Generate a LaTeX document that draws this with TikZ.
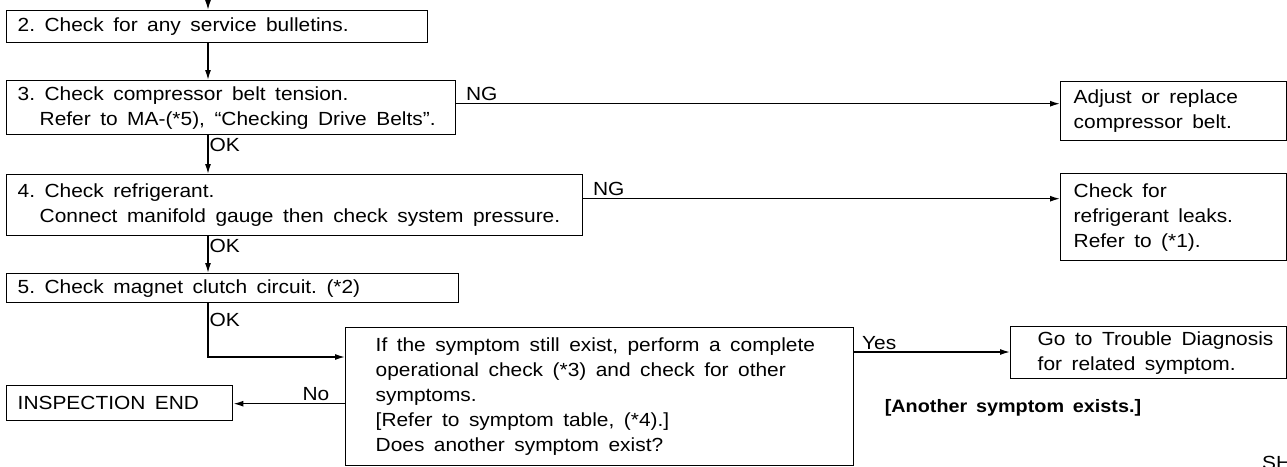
\documentclass[tikz,border=0pt]{standalone}
\usepackage{fontspec}
\setmainfont{Liberation Sans}[FakeStretch=1.10, WordSpace=1.6]
\usetikzlibrary{arrows.meta,positioning}
\newcommand\diafont{\fontsize{19}{25}\selectfont\frenchspacing}

\begin{document}
\begin{tikzpicture}[
  x=1pt, y=-1pt,
  stepbox/.style={rectangle, draw, line width=1.4pt, anchor=north west, align=left, inner xsep=11pt, inner ysep=0pt, font=\diafont, execute at begin node={\spaceskip=0.5em\relax}},
  lbl/.style={font=\diafont, inner sep=1pt},
  arr/.style={-{Latex[length=10pt, width=6pt]}, line width=1.4pt}
]
  \useasboundingbox (0,0) rectangle (1287,466);

  % Main column
  \coordinate (top) at (208,0);
  \node[stepbox, text width=399pt, minimum height=32pt] (bulletin) at (6,10) {2. Check for any service bulletins.};
  \node[stepbox, text width=427pt, minimum height=54pt] (belt) at (6,80) {3. Check compressor belt tension.\\\hspace*{22pt}Refer to MA-(*5), “Checking Drive Belts”.};
  \node[stepbox, text width=554pt, minimum height=61pt] (refrig) at (6,174) {4. Check refrigerant.\\\hspace*{22pt}Connect manifold gauge then check system pressure.};
  \node[stepbox, text width=430pt, minimum height=29pt] (clutch) at (6,273) {5. Check magnet clutch circuit. (*2)};
  \node[stepbox, inner xsep=30pt, text width=448pt, minimum height=138pt] (decide) at (345,327) {If the symptom still exist, perform a complete\\operational check (*3) and check for other\\symptoms.\\{[}Refer to symptom table, (*4).{]}\\Does another symptom exist?};
  \node[stepbox, text width=204pt, minimum height=35pt] (inspend) at (6,385) {INSPECTION END};

  % Right column
  \node[stepbox, inner xsep=13pt, text width=200pt, minimum height=59pt] (adjbelt) at (1060,81) {Adjust or replace\\compressor belt.};
  \node[stepbox, inner xsep=13pt, text width=200pt, minimum height=87pt] (leak) at (1060,173) {Check for\\refrigerant leaks.\\Refer to (*1).};
  \node[stepbox, inner xsep=27pt, text width=222pt, minimum height=52pt] (gotrouble) at (1010,326) {\mbox{Go to Trouble Diagnosis}\\\mbox{for related symptom.}};
  \node[font=\fontsize{18}{25}\selectfont\bfseries, inner sep=0pt] (another) at (1013,408) {[Another symptom exists.]};
  \node[font=\diafont, anchor=north west, inner sep=0pt] (code) at (1262,456) {SH};

  % Arrows
  \draw[arr] (top) -- (top |- bulletin.north);
  \draw[arr] (top |- bulletin.south) -- (top |- belt.north);
  \draw[arr] (top |- belt.south) -- node[lbl, right, near start] {OK} (top |- refrig.north);
  \draw[arr] (top |- refrig.south) -- node[lbl, right, near start] {OK} (top |- clutch.north);
  \draw[arr] (top |- clutch.south) -- node[lbl, right, pos=0.7] {OK} (top |- decide.north west) |- ([yshift=-30pt]decide.north west);
  \draw[arr] ([yshift=4pt]belt.east) -- node[lbl, above right=1pt and 8pt, pos=0] {NG} ([yshift=4pt]belt.east -| adjbelt.west);
  \draw[arr] ([yshift=6.5pt]refrig.east) -- node[lbl, above right=1pt and 8pt, pos=0] {NG} ([yshift=6.5pt]refrig.east -| leak.west);
  \draw[arr] ([yshift=-25pt]decide.north east) -- node[lbl, above right=1pt and 6pt, pos=0] {Yes} ([yshift=-25pt]decide.north east -| gotrouble.west);
  \draw[arr] ([yshift=-7pt]decide.west) -- node[lbl, above left=1pt and 14pt, pos=0] {No} ([yshift=-7pt]decide.west -| inspend.east);
\end{tikzpicture}
\end{document}
